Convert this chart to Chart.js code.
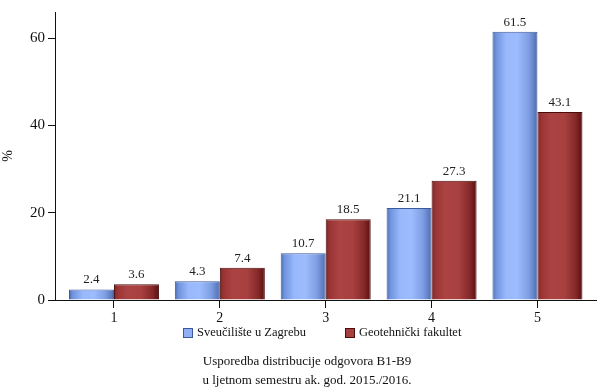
<!DOCTYPE html>
<html>
<head>
<meta charset="utf-8">
<script src="https://cdn.jsdelivr.net/npm/chart.js@4"></script>
<style>
html,body{margin:0;padding:0;background:#fff;}
#wrap{width:600px;height:390px;position:relative;}
</style>
</head>
<body>
<div id="wrap"><canvas id="c" width="600" height="390"></canvas></div>
<script>
const categories = ['1', '2', '3', '4', '5'];
const seriesNames = ['Sveučilište u Zagrebu', 'Geotehnički fakultet'];
const zagrebValues = [2.4, 4.3, 10.7, 21.1, 61.5];
const geotehValues = [3.6, 7.4, 18.5, 27.3, 43.1];
const yTicks = [0, 20, 40, 60];
const titleLines = ['Usporedba distribucije odgovora B1-B9', 'u ljetnom semestru ak. god. 2015./2016.'];

const FONT = "'Liberation Serif', 'DejaVu Serif', serif";

function barGradient(ctx, stops, fallback) {
  const chart = ctx.chart;
  const xs = chart.scales.x;
  if (!xs || !chart.chartArea || xs.width <= 0) return fallback;
  const center = xs.getPixelForValue(ctx.dataIndex + 1);
  const unit = xs.getPixelForValue(2) - xs.getPixelForValue(1);
  const bw = unit * 0.85 / 2;
  const left = ctx.datasetIndex === 0 ? center - bw : center;
  const g = chart.ctx.createLinearGradient(left, 0, left + bw, 0);
  stops.forEach(s => g.addColorStop(s[0], s[1]));
  return g;
}
const blueStops = [[0, '#4e6cae'], [0.08, '#6f92dc'], [0.3, '#98b8fb'], [0.55, '#9dbcfd'], [0.8, '#7f9fe4'], [0.95, '#5b79be'], [1, '#3f5a96']];
const redStops = [[0, '#7a2222'], [0.08, '#9a3434'], [0.3, '#ab4343'], [0.6, '#a94040'], [0.85, '#852929'], [0.96, '#641515'], [1, '#501010']];
const legendFill = ['#8fb0f5', '#a83f3f'];
const legendBorder = ['#3d5a98', '#4a0d0d'];

const valueLabels = {
  id: 'valueLabels',
  afterDatasetsDraw(chart) {
    const c = chart.ctx;
    c.save();
    c.font = '13px ' + FONT;
    c.fillStyle = '#222';
    c.textAlign = 'center';
    c.textBaseline = 'bottom';
    chart.data.datasets.forEach((ds, di) => {
      chart.getDatasetMeta(di).data.forEach((el, i) => {
        c.fillText(ds.data[i].y.toFixed(1), el.x, el.y - 3);
      });
    });
    c.restore();
  }
};

const footer = {
  id: 'footer',
  afterDraw(chart) {
    const c = chart.ctx;
    c.save();
    c.font = '12.5px ' + FONT;
    c.textBaseline = 'middle';
    c.textAlign = 'left';
    const legendY = 333;
    const startX = [183, 345];
    seriesNames.forEach((name, i) => {
      const x = startX[i];
      c.fillStyle = legendFill[i];
      c.fillRect(x, legendY - 5, 10, 10);
      c.strokeStyle = legendBorder[i];
      c.lineWidth = 1;
      c.strokeRect(x + 0.5, legendY - 4.5, 9, 9);
      c.fillStyle = '#111';
      c.fillText(name, x + 14, legendY);
    });
    c.font = '13px ' + FONT;
    c.textAlign = 'center';
    c.fillStyle = '#111';
    c.fillText(titleLines[0], 307, 362);
    c.fillText(titleLines[1], 307, 381);
    c.restore();
  }
};

function build() {
  new Chart(document.getElementById('c'), {
    type: 'bar',
    data: {
      datasets: [
        {
          label: seriesNames[0],
          data: zagrebValues.map((v, i) => ({x: i + 1, y: v})),
          backgroundColor: ctx => barGradient(ctx, blueStops, legendFill[0]),
          borderColor: legendBorder[0],
          borderWidth: 1,
          borderSkipped: 'bottom',
          barPercentage: 1,
          categoryPercentage: 0.85
        },
        {
          label: seriesNames[1],
          data: geotehValues.map((v, i) => ({x: i + 1, y: v})),
          backgroundColor: ctx => barGradient(ctx, redStops, legendFill[1]),
          borderColor: legendBorder[1],
          borderWidth: 1,
          borderSkipped: 'bottom',
          barPercentage: 1,
          categoryPercentage: 0.85
        }
      ]
    },
    options: {
      responsive: false,
      animation: false,
      layout: { padding: { left: 0, right: 4, top: 8, bottom: 64 } },
      plugins: {
        tooltip: { enabled: false },
        legend: { display: false },
        title: { display: false }
      },
      scales: {
        x: {
          type: 'linear',
          min: 0.443,
          max: 5.553,
          offset: false,
          afterBuildTicks: s => { s.ticks = categories.map((c, i) => ({ value: i + 1 })); },
          afterFit: s => { s.height = 26; },
          ticks: {
            callback: (v) => categories[Math.round(v) - 1] || '',
            font: { family: FONT, size: 14 },
            color: '#111',
            padding: 2,
            autoSkip: false,
            maxRotation: 0
          },
          grid: { offset: false, drawOnChartArea: false, drawTicks: true, tickLength: 8, color: '#111' },
          border: { display: true, color: '#111', width: 1 }
        },
        y: {
          min: 0,
          max: 66,
          afterBuildTicks: s => { s.ticks = yTicks.map(v => ({ value: v })); },
          afterFit: s => { s.width = 55; },
          ticks: {
            font: { family: FONT, size: 15 },
            color: '#111',
            padding: 3
          },
          grid: { drawOnChartArea: false, drawTicks: true, tickLength: 7, color: '#111' },
          border: { display: true, color: '#111', width: 1 },
          title: {
            display: true,
            text: '%',
            font: { family: FONT, size: 14 },
            color: '#111',
            padding: { top: 0, bottom: 0 }
          }
        }
      }
    },
    plugins: [valueLabels, footer]
  });
}

const fontLoads = [
  document.fonts.load("14px 'Liberation Serif'"),
  document.fonts.load("13px 'Liberation Serif'")
];
Promise.all(fontLoads).then(build, build);
</script>
</body>
</html>
